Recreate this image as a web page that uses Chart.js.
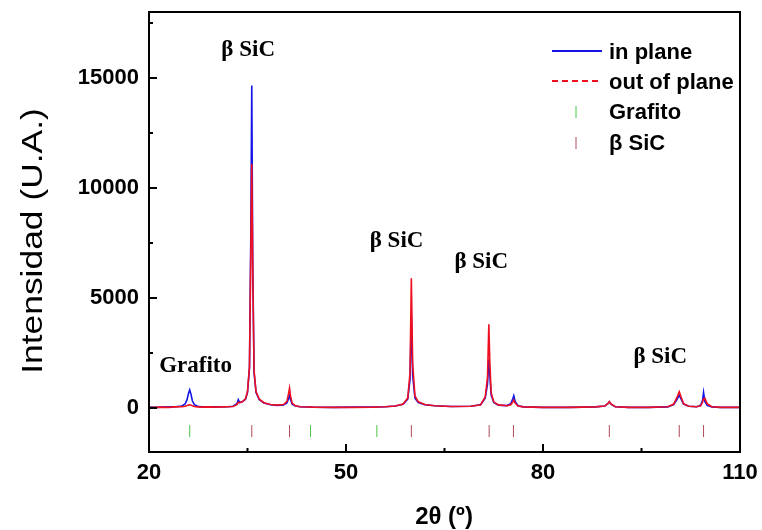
<!DOCTYPE html>
<html>
<head>
<meta charset="utf-8">
<script src="https://cdn.jsdelivr.net/npm/chart.js@4.4.0/dist/chart.umd.min.js"></script>
<style>
  html, body { margin: 0; padding: 0; background: #fff; }
  #wrap { width: 762px; height: 530px; position: relative; }
</style>
</head>
<body>
<div id="wrap"><canvas id="c" width="762" height="530"></canvas></div>
<script>
// ---- data ----
const twoTheta = [20, 21, 22, 23, 24, 25, 25.5, 25.8, 26.0, 26.2, 26.4, 26.6, 26.9, 27.4, 28, 29, 30, 31, 32, 32.8,
  33.4, 33.6, 33.8, 34.2, 34.7, 35.0, 35.3, 35.5, 35.65, 35.8, 36.0, 36.3, 36.8, 37.5, 38.5, 39.5, 40.5, 41.0, 41.25, 41.4,
  41.55, 41.8, 42.3, 43, 45, 48, 51, 54, 56, 57.5, 58.7, 59.4, 59.75, 59.95, 60.15, 60.5, 61.0, 62, 63.5, 66,
  69, 70.5, 71.2, 71.55, 71.75, 71.9, 72.1, 72.5, 73.2, 74.5, 75.1, 75.4, 75.55, 75.75, 76.2, 77, 80, 84, 88, 89.4,
  89.9, 90.1, 90.4, 91, 93, 96, 99, 99.9, 100.4, 100.75, 101.0, 101.4, 102.2, 103.4, 104.0, 104.3, 104.45, 104.65, 105.0, 105.7,
  107, 109, 110];

const inPlane = [40, 30, 40, 50, 60, 90, 180, 380, 650, 820, 620, 330, 150, 80, 60, 50, 60, 50, 60, 80,
  200, 380, 250, 280, 400, 700, 1800, 7800, 14660, 6500, 1600, 700, 380, 230, 150, 120, 140, 230, 420, 590,
  380, 170, 90, 60, 40, 30, 40, 40, 60, 90, 170, 400, 1300, 4200, 1500, 450, 250, 150, 100, 70,
  80, 150, 450, 1100, 2200, 1500, 600, 250, 130, 110, 200, 420, 560, 300, 100, 50, 30, 30, 50, 90,
  210, 280, 160, 60, 30, 30, 50, 150, 380, 590, 420, 180, 80, 60, 120, 350, 710, 300, 120, 50,
  30, 30, 30];

const outOfPlane = [20, 30, 40, 30, 50, 60, 80, 110, 140, 150, 130, 100, 70, 50, 40, 50, 40, 50, 60, 70,
  150, 260, 240, 280, 420, 750, 1900, 7000, 11100, 6200, 1700, 750, 400, 240, 160, 130, 160, 300, 650, 900,
  550, 220, 100, 60, 40, 30, 30, 40, 60, 90, 180, 450, 1600, 5900, 2000, 550, 280, 160, 100, 70,
  80, 150, 500, 1400, 3810, 2100, 700, 280, 140, 100, 150, 280, 360, 220, 90, 50, 30, 30, 50, 90,
  200, 290, 170, 60, 30, 30, 60, 180, 480, 740, 520, 200, 80, 60, 100, 260, 420, 440, 200, 60,
  30, 30, 30];

const grafitoRefs = [26.2, 44.6, 54.7];
const sicRefs = [35.65, 41.4, 59.95, 71.8, 75.5, 90.1, 100.75, 104.45];
const refLevel = -1050;

const xTicks = [20, 50, 80, 110];
const xMinorTicks = [35, 65, 95];
const yTicks = [0, 5000, 10000, 15000];
const yMinorTicks = [2500, 7500, 12500, 17500];

const seriesNames = ['in plane', 'out of plane', 'Grafito', 'β SiC'];
const peakLabels = [
  { text: 'Grafito', x: 27.1, y: 1650 },
  { text: 'β SiC', x: 35.1, y: 16000 },
  { text: 'β SiC', x: 57.7, y: 7330 },
  { text: 'β SiC', x: 70.6, y: 6360 },
  { text: 'β SiC', x: 97.85, y: 2030 }
];

const BLUE = '#1414e6';
const RED = '#ee1020';
const GREEN = '#4cc44c';
const BROWN = '#b04a5a';

const toXY = (xs, ys) => xs.map((x, i) => ({ x: x, y: ys[i] }));

const decor = {
  id: 'decor',
  afterDatasetsDraw(chart) {
    const ctx = chart.ctx, xs = chart.scales.x, ys = chart.scales.y;
    ctx.save();
    ctx.fillStyle = '#000';
    ctx.font = 'bold 23px "Liberation Serif", "Times New Roman", serif';
    ctx.textAlign = 'center';
    ctx.textBaseline = 'alphabetic';
    peakLabels.forEach(l => ctx.fillText(l.text, xs.getPixelForValue(l.x), ys.getPixelForValue(l.y)));
    ctx.restore();
  },
  afterDraw(chart) {
    const ctx = chart.ctx, a = chart.chartArea, xs = chart.scales.x, ys = chart.scales.y;
    ctx.save();
    // frame
    ctx.strokeStyle = '#000';
    ctx.lineWidth = 2;
    ctx.strokeRect(a.left, a.top, a.right - a.left, a.bottom - a.top);
    // inward ticks
    ctx.lineWidth = 2;
    ctx.beginPath();
    xTicks.forEach(v => { const p = xs.getPixelForValue(v); ctx.moveTo(p, a.bottom); ctx.lineTo(p, a.bottom - 8); });
    xMinorTicks.forEach(v => { const p = xs.getPixelForValue(v); ctx.moveTo(p, a.bottom); ctx.lineTo(p, a.bottom - 4); });
    yTicks.forEach(v => { const p = ys.getPixelForValue(v); ctx.moveTo(a.left, p); ctx.lineTo(a.left + 8, p); });
    yMinorTicks.forEach(v => { const p = ys.getPixelForValue(v); ctx.moveTo(a.left, p); ctx.lineTo(a.left + 4, p); });
    ctx.stroke();

    // legend
    const lx0 = 552, lx1 = 602, tx = 609;
    const rows = [53, 83, 113, 144];
    ctx.lineWidth = 2;
    ctx.strokeStyle = BLUE;
    ctx.beginPath(); ctx.moveTo(lx0, rows[0] - 2); ctx.lineTo(lx1, rows[0] - 2); ctx.stroke();
    ctx.strokeStyle = RED;
    ctx.setLineDash([6, 4]);
    ctx.beginPath(); ctx.moveTo(lx0, rows[1] - 2); ctx.lineTo(lx1, rows[1] - 2); ctx.stroke();
    ctx.setLineDash([]);
    ctx.lineWidth = 1;
    ctx.strokeStyle = GREEN;
    ctx.beginPath(); ctx.moveTo(576, rows[2] - 7); ctx.lineTo(576, rows[2] + 5); ctx.stroke();
    ctx.strokeStyle = BROWN;
    ctx.beginPath(); ctx.moveTo(576, rows[3] - 7); ctx.lineTo(576, rows[3] + 5); ctx.stroke();
    ctx.fillStyle = '#000';
    ctx.font = 'bold 22px "Liberation Sans", Arial, sans-serif';
    ctx.textAlign = 'left';
    ctx.textBaseline = 'middle';
    seriesNames.forEach((n, i) => ctx.fillText(n, tx, rows[i]));

    // axis titles
    ctx.font = '30px "Liberation Sans", Arial, sans-serif';
    ctx.textAlign = 'center';
    ctx.textBaseline = 'middle';
    ctx.save();
    ctx.translate(34, 241);
    ctx.rotate(-Math.PI / 2);
    ctx.scale(1.18, 1);
    ctx.fillText('Intensidad (U.A.)', 0, 0);
    ctx.restore();
    ctx.font = 'bold 24px "Liberation Sans", Arial, sans-serif';
    ctx.fillText('2θ (º)', 444, 517);
    ctx.restore();
  }
};

new Chart(document.getElementById('c'), {
  type: 'scatter',
  data: {
    datasets: [
      { label: seriesNames[1], data: toXY(twoTheta, outOfPlane), showLine: true, borderColor: RED, borderWidth: 1.6,
        pointRadius: 0, tension: 0, order: 0 },
      { label: seriesNames[0], data: toXY(twoTheta, inPlane), showLine: true, borderColor: BLUE, borderWidth: 1.6,
        pointRadius: 0, tension: 0, order: 1 },
      { label: seriesNames[2], data: grafitoRefs.map(x => ({ x: x, y: refLevel })), pointStyle: 'line', rotation: 90,
        radius: 6, borderColor: GREEN, borderWidth: 1, order: 2 },
      { label: seriesNames[3], data: sicRefs.map(x => ({ x: x, y: refLevel })), pointStyle: 'line', rotation: 90,
        radius: 6, borderColor: BROWN, borderWidth: 1, order: 2 }
    ]
  },
  options: {
    responsive: false,
    animation: false,
    devicePixelRatio: 1,
    layout: { padding: { left: 0, right: 22, top: 12, bottom: 0 } },
    plugins: { legend: { display: false }, tooltip: { enabled: false } },
    scales: {
      x: {
        type: 'linear', min: 20, max: 110,
        afterBuildTicks: s => { s.ticks = xTicks.map(v => ({ value: v })); },
        afterFit: s => { s.height = 78; s.paddingLeft = 0; s.paddingRight = 0; },
        grid: { display: false, drawTicks: false },
        border: { display: false },
        ticks: { color: '#000', padding: 8, maxRotation: 0, callback: v => String(v),
          font: { family: '"Liberation Sans", Arial, sans-serif', size: 22, weight: 'bold' } }
      },
      y: {
        type: 'linear', min: -2000, max: 18000,
        afterBuildTicks: s => { s.ticks = yTicks.map(v => ({ value: v })); },
        afterFit: s => { s.width = 149; s.paddingTop = 0; s.paddingBottom = 0; },
        grid: { display: false, drawTicks: false },
        border: { display: false },
        ticks: { color: '#000', padding: 10, callback: v => String(v),
          font: { family: '"Liberation Sans", Arial, sans-serif', size: 22, weight: 'bold' } }
      }
    }
  },
  plugins: [decor]
});
</script>
</body>
</html>
